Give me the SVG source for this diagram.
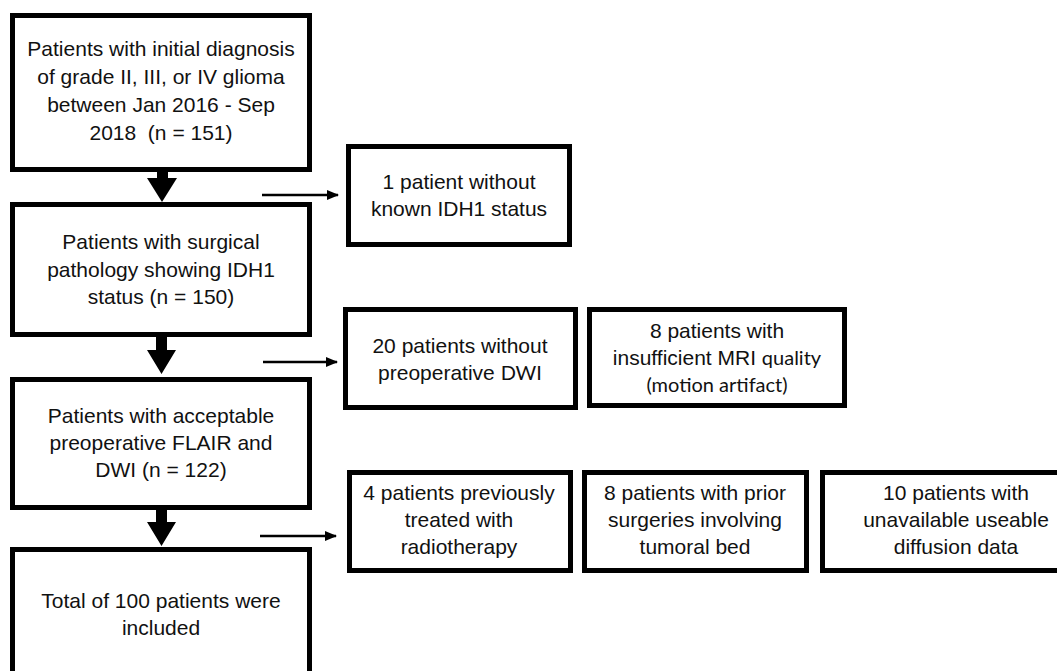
<svg xmlns="http://www.w3.org/2000/svg" width="1057" height="671" viewBox="0 0 1057 671">
<defs>
<style>
.box{fill:#fff;stroke:#000;stroke-width:5}
.t{font-family:"Liberation Sans",Arial,sans-serif;font-size:21px;fill:#111;text-anchor:middle}
.c{font-family:Lato,"Open Sans",sans-serif;font-size:20px}
.thin{stroke:#000;stroke-width:2.7;fill:none}
.big{fill:#000}
</style>
<marker id="ah" markerWidth="12" markerHeight="10" refX="11" refY="5" orient="auto" markerUnits="userSpaceOnUse">
<path d="M0,0 L12,5 L0,10 Z" fill="#000"/>
</marker>
</defs>
<rect width="1057" height="671" fill="#fff"/>

<g id="connectors">
<path class="big" d="M157,172 H168 V178 H177 L162,202 L147,178 H157 Z"/>
<path class="big" d="M156,337 H167 V350 H176 L161.5,374 L147,350 H156 Z"/>
<path class="big" d="M156,510 H167 V522 H176 L161.5,546 L147,522 H156 Z"/>
<line class="thin" x1="262" y1="195" x2="338" y2="195" marker-end="url(#ah)"/>
<line class="thin" x1="263" y1="362" x2="337" y2="362" marker-end="url(#ah)"/>
<line class="thin" x1="260" y1="536" x2="336" y2="536" marker-end="url(#ah)"/>
</g>

<g id="n1">
<rect class="box" x="12.5" y="15.5" width="297" height="154"/>
<text class="t" x="161" y="56">Patients with initial diagnosis</text>
<text class="t" x="161" y="84">of grade II, III, or IV glioma</text>
<text class="t" x="161" y="112">between Jan 2016 - Sep</text>
<text class="t" x="161" y="140" xml:space="preserve">2018  (n = 151)</text>
</g>

<g id="n2">
<rect class="box" x="12.5" y="204.5" width="297" height="130"/>
<text class="t" x="161" y="249">Patients with surgical</text>
<text class="t" x="161" y="277">pathology showing IDH1</text>
<text class="t" x="161" y="304">status (n = 150)</text>
</g>

<g id="n3">
<rect class="box" x="12.5" y="379.5" width="297" height="128"/>
<text class="t" x="161" y="423">Patients with acceptable</text>
<text class="t" x="161" y="450">preoperative FLAIR and</text>
<text class="t" x="161" y="477">DWI (n = 122)</text>
</g>

<g id="n4">
<rect class="box" x="12.5" y="549.5" width="297" height="135"/>
<text class="t" x="161" y="608">Total of 100 patients were</text>
<text class="t" x="161" y="635">included</text>
</g>

<g id="e1">
<rect class="box" x="348.5" y="146.5" width="221" height="98"/>
<text class="t" x="459" y="189">1 patient without</text>
<text class="t" x="459" y="216">known IDH1 status</text>
</g>

<g id="e2">
<rect class="box" x="345.5" y="309.5" width="230" height="98"/>
<text class="t" x="460" y="353">20 patients without</text>
<text class="t" x="460" y="380">preoperative <tspan class="c">DWI</tspan></text>
</g>

<g id="e3">
<rect class="box" x="589.5" y="309.5" width="255" height="96"/>
<text class="t" x="717" y="338">8 patients with</text>
<text class="t" x="717" y="365">insufficient MRI <tspan class="c">quality</tspan></text>
<text class="t c" x="717" y="392">(motion artifact)</text>
</g>

<g id="e4">
<rect class="box" x="349.5" y="472.5" width="221" height="98"/>
<text class="t" x="459" y="500">4 patients previously</text>
<text class="t" x="459" y="527">treated with</text>
<text class="t" x="459" y="554">radiotherapy</text>
</g>

<g id="e5">
<rect class="box" x="584.5" y="472.5" width="222" height="98"/>
<text class="t" x="695" y="500">8 patients with prior</text>
<text class="t" x="695" y="527">surgeries involving</text>
<text class="t" x="695" y="554">tumoral bed</text>
</g>

<g id="e6">
<rect class="box" x="822.5" y="472.5" width="270" height="98"/>
<text class="t" x="956" y="500">10 patients with</text>
<text class="t" x="956" y="527">unavailable useable</text>
<text class="t" x="956" y="554">diffusion data</text>
</g>
</svg>
